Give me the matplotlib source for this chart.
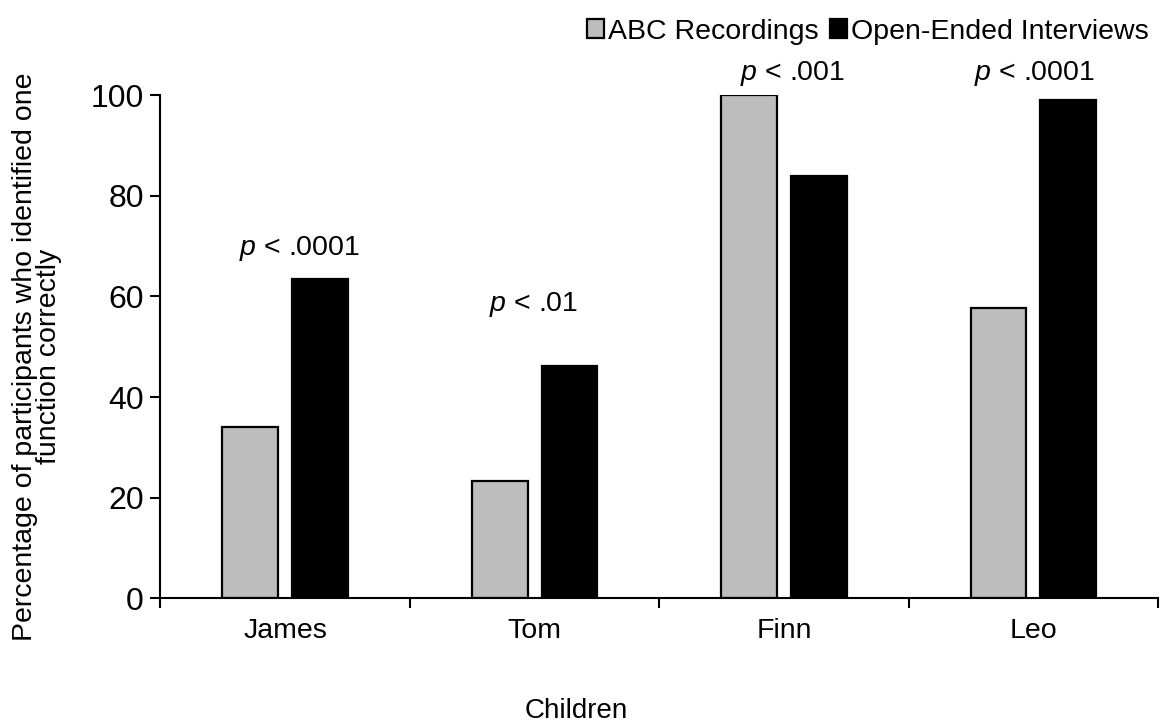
import numpy as np
import matplotlib
matplotlib.use("Agg")
import matplotlib.pyplot as plt

plt.rcParams['font.family'] = ['Liberation Sans', 'DejaVu Sans']
plt.rcParams['mathtext.fontset'] = 'custom'
plt.rcParams['mathtext.it'] = 'Liberation Sans:italic'
plt.rcParams['mathtext.rm'] = 'Liberation Sans'

# --- Dados ---
children = ["James", "Tom", "Finn", "Leo"]
abc_recordings = [34.1, 23.4, 100.0, 57.7]
open_interviews = [63.5, 46.2, 84.0, 99.0]
p_labels = [".0001", ".01", ".001", ".0001"]
p_heights = [69.5, 58.5, 104.3, 104.3]
p_shift = [0.056, -0.004, 0.036, 0.004]

fig = plt.figure(figsize=(11.71, 7.27), dpi=100)
ax = fig.add_axes([0.137, 0.177, 0.852, 0.692])

x = np.arange(len(children))
w = 0.224
off = 0.14
ax.bar(x - off, abc_recordings, w, color="#bdbdbd", edgecolor="black",
       linewidth=1.6, label="ABC Recordings")
ax.bar(x + off, open_interviews, w, color="black", edgecolor="black",
       linewidth=1.6, label="Open-Ended Interviews")

for xi, lab, h, dx in zip(x, p_labels, p_heights, p_shift):
    ax.text(xi + dx, h, r"$\it{p}$ < " + lab, ha="center", va="center",
            fontsize=20.5, clip_on=False)

ax.set_xlim(-0.5, len(children) - 0.5)
ax.set_ylim(0, 100)
ax.set_yticks(np.arange(0, 101, 20))
ax.set_xticks(np.arange(-0.5, len(children), 1.0))
ax.set_xticklabels([])
ax.set_xticks(x, minor=True)
ax.set_xticklabels(children, minor=True)
ax.tick_params(axis="x", which="minor", length=0, pad=14, labelsize=20.5)
ax.tick_params(axis="x", which="major", direction="out", length=7, width=1.5)
ax.tick_params(axis="y", direction="out", length=7, width=1.5, labelsize=23, pad=5)

for s in ["top", "right"]:
    ax.spines[s].set_visible(False)
for s in ["left", "bottom"]:
    ax.spines[s].set_linewidth(1.5)

ax.set_xlabel("Children", fontsize=20)
ax.xaxis.set_label_coords(0.417, -0.198)
ax.set_ylabel("Percentage of participants who identified one\nfunction correctly",
              fontsize=20.5, linespacing=0.9)
ax.yaxis.set_label_coords(-0.099, 0.48)

fig.legend(loc="upper right", bbox_to_anchor=(0.997, 1.0), ncol=2, frameon=False,
           fontsize=20.5, handlelength=0.6, handleheight=0.6, handletextpad=0.15,
           columnspacing=0.4, borderaxespad=0.25)

fig.savefig("out.png", dpi=100)
